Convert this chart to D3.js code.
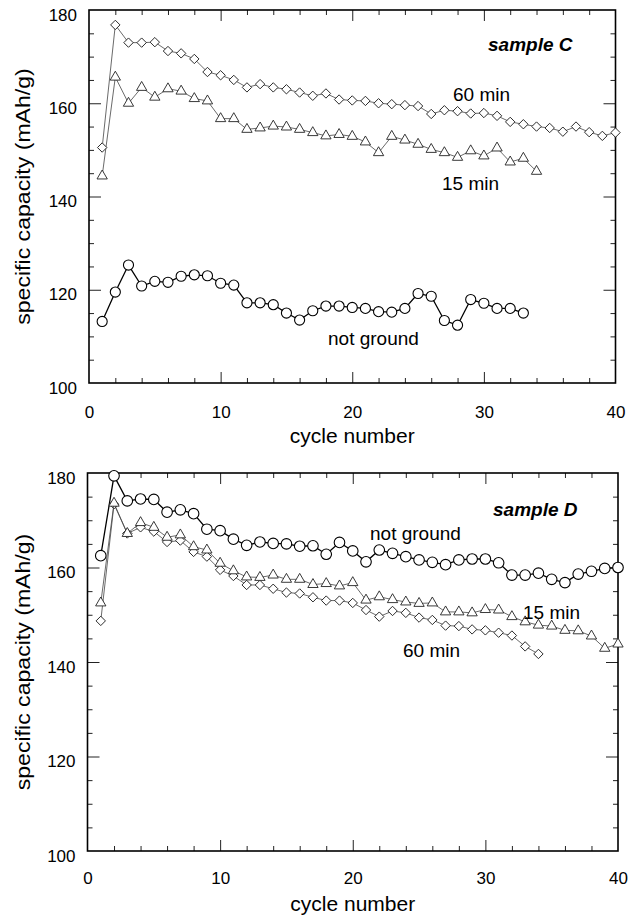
<!DOCTYPE html>
<html>
<head>
<meta charset="utf-8">
<script src="https://cdn.jsdelivr.net/npm/d3@7"></script>
<style>
  body { margin: 0; background: #fff; }
  text { font-family: "Liberation Sans", Arial, Helvetica, sans-serif; fill: #000; }
</style>
</head>
<body>
<div id="graph"></div>
<script>
// cycle numbers (x) shared by every series
var cycles = [1,2,3,4,5,6,7,8,9,10,11,12,13,14,15,16,17,18,19,20,
              21,22,23,24,25,26,27,28,29,30,31,32,33,34,35,36,37,38,39,40];

// sample C, specific capacity in mAh/g
var c_60min = [150.5,176.8,173.0,173.0,173.1,171.2,170.7,169.5,166.7,166.0,
               165.0,163.4,164.1,163.4,163.0,162.3,161.6,162.1,160.8,160.6,
               160.5,160.0,159.8,159.6,159.4,157.7,158.5,158.3,157.8,157.9,
               157.3,156.0,155.5,155.0,154.7,153.9,155.0,153.8,153.0,153.7];
var c_15min = [144.4,165.6,160.0,163.4,161.3,163.1,162.6,161.0,160.5,156.7,
               156.7,154.4,154.7,155.1,154.9,154.4,153.7,153.0,153.3,152.9,
               151.7,149.4,152.9,152.1,151.2,150.1,149.4,148.4,149.8,148.7,
               150.4,147.4,148.2,145.4];
var c_notground = [113.2,119.5,125.3,120.8,121.8,121.6,122.9,123.2,123.0,121.4,
                   121.0,117.2,117.2,116.8,115.0,113.5,115.5,116.5,116.5,116.2,
                   116.0,115.3,115.2,116.0,119.2,118.6,113.4,112.4,117.9,117.1,
                   116.0,116.0,115.0];

// sample D
var d_notground = [162.5,179.4,174.1,174.5,174.4,171.7,172.2,171.4,168.1,167.8,
                   166.0,164.7,165.4,165.1,165.0,164.5,164.6,162.8,165.3,163.5,
                   161.2,163.7,163.0,162.3,161.6,161.1,160.6,161.6,161.8,161.8,
                   161.0,158.4,158.4,158.8,157.5,156.8,158.6,159.2,159.8,160.0];
var d_15min = [152.5,173.6,167.2,169.5,168.5,166.4,166.9,164.4,163.7,160.9,
               159.3,158.0,157.9,158.4,157.5,157.5,156.4,156.6,156.1,156.8,
               153.1,153.8,153.2,152.7,152.4,152.5,150.6,150.6,150.4,151.1,
               151.0,149.6,148.5,147.8,147.6,146.7,146.6,145.5,142.9,143.8];
var d_60min = [148.7,173.4,167.2,168.5,167.6,165.4,165.7,163.3,162.3,159.5,
               158.2,156.3,156.3,155.5,154.7,154.5,153.7,153.0,153.0,152.5,
               151.0,149.6,150.8,150.4,149.4,148.9,147.7,147.6,146.9,146.7,
               146.2,145.6,143.3,141.7];

// ticks
var xLabelTicks = [0,10,20,30,40];
var xMinorTicks = [2,4,6,8,12,14,16,18,22,24,26,28,32,34,36,38];
var xMajorTicks = [10,20,30];
var yLabelTicks = [100,120,140,160,180];
var yMinorTicks = [105,110,115,125,130,135,145,150,155,165,170,175];
var yMajorTicks = [120,140,160];

var svg = d3.select("#graph").append("svg")
    .attr("width", 643).attr("height", 916);
svg.append("rect").attr("width", 643).attr("height", 916).attr("fill", "#fff");

function zip(vals) {
    return vals.map(function(v, i) { return [cycles[i], v]; });
}

function draw_panel(p) {
    var x = d3.scaleLinear().domain([0, 40]).range([p.left, p.right]);
    var y = d3.scaleLinear().domain([100, 180]).range([p.bottom, p.top]);
    var g = svg.append("g");

    // inward ticks on all four sides
    function ticks(axis, tv, len, tr) {
        var a = g.append("g").attr("transform", tr)
            .call(axis.tickValues(tv).tickSize(-len).tickFormat(""));
        a.select(".domain").remove();
        a.selectAll("line").attr("stroke", "#222").attr("stroke-width", 1);
    }
    ticks(d3.axisBottom(x), xMinorTicks, 5, "translate(0," + p.bottom + ")");
    ticks(d3.axisBottom(x), xMajorTicks, 11, "translate(0," + p.bottom + ")");
    ticks(d3.axisTop(x), xMinorTicks, 5, "translate(0," + p.top + ")");
    ticks(d3.axisTop(x), xMajorTicks, 11, "translate(0," + p.top + ")");
    ticks(d3.axisLeft(y), yMinorTicks, 5, "translate(" + p.left + ",0)");
    ticks(d3.axisLeft(y), yMajorTicks, 12, "translate(" + p.left + ",0)");
    ticks(d3.axisRight(y), yMinorTicks, 5, "translate(" + p.right + ",0)");
    ticks(d3.axisRight(y), yMajorTicks, 12, "translate(" + p.right + ",0)");

    // labels
    var xl = g.append("g").attr("transform", "translate(0," + p.bottom + ")")
        .call(d3.axisBottom(x).tickValues(xLabelTicks).tickSize(0).tickPadding(p.xpad));
    xl.select(".domain").remove();
    xl.selectAll("text").attr("font-size", 17).attr("font-family", null);

    var yl = g.append("g").attr("transform", "translate(" + p.left + ",0)")
        .call(d3.axisLeft(y).tickValues(yLabelTicks).tickSize(0).tickPadding(12));
    yl.select(".domain").remove();
    yl.selectAll("text").attr("font-size", 17).attr("font-family", null).attr("dy", "0.6em");

    // frame
    g.append("rect")
        .attr("x", p.left).attr("y", p.top)
        .attr("width", p.right - p.left).attr("height", p.bottom - p.top)
        .attr("fill", "none").attr("stroke", "#000").attr("stroke-width", 1.6);

    g.append("text")
        .attr("x", (p.left + p.right) / 2).attr("y", p.xtitle)
        .attr("text-anchor", "middle").attr("font-size", 21)
        .text("cycle number");
    g.append("text")
        .attr("transform", "translate(30," + ((p.top + p.bottom) / 2) + ") rotate(-90) scale(1.1,1)")
        .attr("text-anchor", "middle").attr("font-size", 21)
        .text("specific capacity (mAh/g)");

    var line = d3.line().x(function(d) { return x(d[0]); }).y(function(d) { return y(d[1]); });

    p.series.forEach(function(s) {
        var pts = zip(s.values);
        g.append("path").datum(pts)
            .attr("d", line).attr("fill", "none")
            .attr("stroke", s.line).attr("stroke-width", s.lw);
        var sym = d3.symbol().type(s.symbol).size(s.size);
        g.selectAll(null).data(pts).enter().append("path")
            .attr("d", sym)
            .attr("transform", function(d) {
                return "translate(" + x(d[0]) + "," + y(d[1]) + ")" + (s.rot ? " rotate(45)" : "");
            })
            .attr("fill", "#fff").attr("stroke", s.mark).attr("stroke-width", s.mw);
    });

    p.notes.forEach(function(n) {
        g.append("text").attr("x", n.x).attr("y", n.y)
            .attr("font-size", 19)
            .attr("font-weight", n.bold ? "bold" : null)
            .attr("font-style", n.bold ? "italic" : null)
            .text(n.t);
    });
}

function diamond(v) { return {values: v, symbol: d3.symbolSquare, size: 44, rot: true, line: "#444", lw: 0.8, mark: "#222", mw: 0.9}; }
function triangle(v) { return {values: v, symbol: d3.symbolTriangle, size: 46, rot: false, line: "#444", lw: 0.8, mark: "#222", mw: 0.9}; }
function circle(v, sz) { return {values: v, symbol: d3.symbolCircle, size: sz, rot: false, line: "#000", lw: 1.3, mark: "#000", mw: 1.1}; }

draw_panel({
    left: 89, right: 615.5, top: 10, bottom: 383, xpad: 23, xtitle: 443,
    series: [circle(c_notground, 80), triangle(c_15min), diamond(c_60min)],
    notes: [
        {t: "sample C", x: 488, y: 51, bold: true},
        {t: "60 min", x: 453, y: 101},
        {t: "15 min", x: 442, y: 190},
        {t: "not ground", x: 328, y: 345}
    ]
});

draw_panel({
    left: 87.5, right: 618, top: 473, bottom: 851, xpad: 21, xtitle: 911,
    series: [circle(d_notground, 88), diamond(d_60min), triangle(d_15min)],
    notes: [
        {t: "sample D", x: 493, y: 516, bold: true},
        {t: "not ground", x: 370, y: 540},
        {t: "15 min", x: 523, y: 619},
        {t: "60 min", x: 403, y: 657}
    ]
});
</script>
</body>
</html>
